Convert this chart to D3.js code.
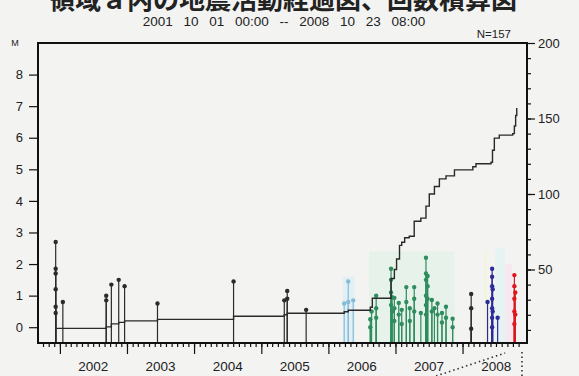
<!DOCTYPE html>
<html>
<head>
<meta charset="utf-8">
<script src="https://cdn.jsdelivr.net/npm/d3@7"></script>
<style>
  html, body { margin: 0; padding: 0; background: #f3f3f2; }
  svg { display: block; }
  text { font-family: "Liberation Sans", Arial, sans-serif; fill: #222; }
</style>
</head>
<body>
<svg id="chart" width="579" height="376"></svg>
<script>
// ─── Data ─────────────────────────────────────────────────────────────────
const titleText = "領域ａ内の地震活動経過図、回数積算図";
const periodText = "2001 10 01 00:00 -- 2008 10 23 08:00";
const countLabel = "N=157";

const mTicks = [0, 1, 2, 3, 4, 5, 6, 7, 8];
const nTicks = [50, 100, 150, 200];
const yearLabels = ["2002", "2003", "2004", "2005", "2006", "2007", "2008"];

// [date, magnitude]
const blackEvents = [
  ["2001-12-09", 2.7], ["2001-12-09", 1.85], ["2001-12-09", 1.7], ["2001-12-09", 1.2],
  ["2001-12-09", 0.65], ["2001-12-09", 0.45],
  ["2002-01-17", 0.8],
  ["2002-09-10", 1.0], ["2002-09-10", 0.85],
  ["2002-10-08", 1.35],
  ["2002-11-17", 1.5],
  ["2002-12-19", 1.3],
  ["2003-06-16", 0.75],
  ["2004-08-03", 1.45],
  ["2005-05-06", 0.85],
  ["2005-05-22", 1.15], ["2005-05-22", 0.9],
  ["2005-09-02", 0.55],
  ["2008-02-17", 1.05], ["2008-02-17", 0.6], ["2008-02-17", -0.05]
];
const paleBlueEvents = [
  ["2006-03-28", 0.75], ["2006-04-19", 1.45], ["2006-04-19", 0.8], ["2006-05-16", 0.85]
];
const greenEvents = [
  ["2006-08-17", 0.25], ["2006-08-17", 0.0],
  ["2006-08-24", 0.5],
  ["2006-09-18", 1.0], ["2006-09-18", 0.6], ["2006-09-18", 0.3],
  ["2006-12-08", 1.85], ["2006-12-08", 1.5], ["2006-12-08", 1.1], ["2006-12-08", 0.7],
  ["2006-12-14", 0.95], ["2006-12-14", 0.5],
  ["2006-12-26", 0.93], ["2006-12-26", 0.6], ["2006-12-26", 0.2],
  ["2007-01-19", 0.77], ["2007-01-19", 0.4],
  ["2007-02-04", 0.55], ["2007-02-04", 0.1],
  ["2007-03-01", 1.27], ["2007-03-01", 0.8],
  ["2007-03-20", 0.6], ["2007-03-20", 0.2],
  ["2007-04-13", 1.27], ["2007-04-13", 0.9], ["2007-04-13", 0.5],
  ["2007-05-19", 0.45],
  ["2007-06-16", 2.2], ["2007-06-16", 1.7], ["2007-06-16", 1.5], ["2007-06-16", 1.0],
  ["2007-06-16", 0.7], ["2007-06-16", 0.4],
  ["2007-06-25", 1.62], ["2007-06-25", 1.3], ["2007-06-25", 0.9],
  ["2007-07-18", 0.86], ["2007-07-18", 0.5],
  ["2007-08-01", 0.6],
  ["2007-08-18", 0.75], ["2007-08-18", 0.4],
  ["2007-09-11", 0.45], ["2007-09-11", 0.15],
  ["2007-10-03", 0.65], ["2007-10-03", 0.3],
  ["2007-11-08", 0.27], ["2007-11-08", 0.0]
];
const blueEvents = [
  ["2008-05-16", 0.8],
  ["2008-06-10", 1.85], ["2008-06-10", 1.6], ["2008-06-10", 1.3], ["2008-06-10", 0.9],
  ["2008-06-10", 0.6], ["2008-06-10", 0.3], ["2008-06-10", 0.0],
  ["2008-06-13", 1.2], ["2008-06-13", 0.5],
  ["2008-07-10", 0.3]
];
const redEvents = [
  ["2008-10-09", 1.65], ["2008-10-09", 1.3], ["2008-10-09", 0.9], ["2008-10-09", 0.5],
  ["2008-10-09", 0.1], ["2008-10-14", 1.1], ["2008-10-14", 0.4]
];

// cumulative number of events [date, count]
const cumulative = [
  ["2001-12-09", 11], ["2002-09-10", 12], ["2002-10-08", 14], ["2002-11-17", 15],
  ["2002-12-19", 16], ["2003-06-16", 17], ["2004-08-03", 19], ["2005-05-06", 20],
  ["2005-05-22", 21], ["2006-03-28", 22], ["2006-04-19", 23], ["2006-08-17", 25],
  ["2006-08-28", 31], ["2006-12-08", 44], ["2006-12-26", 50], ["2007-01-07", 57],
  ["2007-01-23", 66], ["2007-02-04", 68], ["2007-02-20", 71], ["2007-03-17", 72],
  ["2007-04-13", 82], ["2007-05-19", 84], ["2007-06-16", 92], ["2007-07-04", 100],
  ["2007-08-01", 105], ["2007-08-28", 110], ["2007-10-03", 112], ["2007-11-18", 116],
  ["2008-02-26", 118], ["2008-03-14", 120], ["2008-06-04", 121], ["2008-06-12", 129],
  ["2008-06-22", 137], ["2008-07-19", 139], ["2008-09-30", 140], ["2008-10-09", 145],
  ["2008-10-16", 152], ["2008-10-22", 157]
];

// faint colour haze of the scan behind the coloured groups [from, to, top M, colour]
const hazeBands = [
  ["2006-03-20", "2006-05-24", 1.6, "#e2f0f5"],
  ["2006-08-10", "2007-11-20", 2.4, "#e7f3ea"],
  ["2008-04-28", "2008-05-12", 2.4, "#f4f3dc"],
  ["2008-06-28", "2008-08-20", 2.5, "#e5f3f3"],
  ["2008-08-20", "2008-09-25", 2.0, "#f6e8ee"]
];

// ─── Layout ───────────────────────────────────────────────────────────────
const FRAME = { left: 38, right: 527, top: 43, bottom: 343 };
const parse = d3.timeParse("%Y-%m-%d");

const x = d3.scaleTime()
  .domain([new Date(2001, 9, 1), new Date(2008, 9, 23, 8)])
  .range([43, 517]);
const yM = d3.scaleLinear().domain([-0.5, 9]).range([FRAME.bottom, FRAME.top]);
const yN = d3.scaleLinear().domain([0, 200]).range([345, FRAME.top]);

const svg = d3.select("#chart");

// ─── Titles ───────────────────────────────────────────────────────────────
svg.append("text")
  .attr("x", 49).attr("y", 8.5)
  .attr("font-size", "26px").attr("font-weight", "700")
  .style("font-family", "'Noto Sans CJK JP', sans-serif")
  .text(titleText);

svg.append("text")
  .attr("x", 284).attr("y", 26)
  .attr("text-anchor", "middle")
  .attr("font-size", "13.5px")
  .attr("word-spacing", "7px")
  .text(periodText);

svg.append("text")
  .attr("x", 511).attr("y", 38)
  .attr("text-anchor", "end")
  .attr("font-size", "11.5px")
  .text(countLabel);

svg.append("text")
  .attr("x", 15).attr("y", 46)
  .attr("text-anchor", "middle")
  .attr("font-size", "9px")
  .text("M");

// ─── Haze ─────────────────────────────────────────────────────────────────
svg.append("g").selectAll("rect")
  .data(hazeBands).join("rect")
  .attr("x", d => x(parse(d[0])))
  .attr("width", d => x(parse(d[1])) - x(parse(d[0])))
  .attr("y", d => yM(d[2]))
  .attr("height", d => FRAME.bottom - yM(d[2]))
  .attr("fill", d => d[3]);

// ─── Events (stems + dots) ────────────────────────────────────────────────
const groups = [
  { data: blackEvents,    color: "#2b2b2b" },
  { data: paleBlueEvents, color: "#84bcd8" },
  { data: greenEvents,    color: "#2f8c5e" },
  { data: blueEvents,     color: "#2a2c98" },
  { data: redEvents,      color: "#dd1620" }
];

groups.forEach(grp => {
  const g = svg.append("g");
  g.selectAll("line")
    .data(grp.data).join("line")
    .attr("x1", d => x(parse(d[0]))).attr("x2", d => x(parse(d[0])))
    .attr("y1", FRAME.bottom).attr("y2", d => yM(d[1]))
    .attr("stroke", grp.color).attr("stroke-width", 1.2);
  g.selectAll("circle")
    .data(grp.data).join("circle")
    .attr("cx", d => x(parse(d[0])))
    .attr("cy", d => yM(d[1]))
    .attr("r", 2.2)
    .attr("fill", grp.color);
});

// ─── Cumulative count ─────────────────────────────────────────────────────
const line = d3.line()
  .x(d => x(parse(d[0])))
  .y(d => yN(d[1]))
  .curve(d3.curveStepAfter);

svg.append("path")
  .datum(cumulative)
  .attr("d", line)
  .attr("fill", "none")
  .attr("stroke", "#2a2a2a")
  .attr("stroke-width", 1.4);

// ─── Frame ────────────────────────────────────────────────────────────────
svg.append("rect")
  .attr("x", FRAME.left).attr("y", FRAME.top)
  .attr("width", FRAME.right - FRAME.left)
  .attr("height", FRAME.bottom - FRAME.top)
  .attr("fill", "none").attr("stroke", "#111").attr("stroke-width", 2);

// ─── Axes ─────────────────────────────────────────────────────────────────
function styleAxis(g, size) {
  g.select(".domain").remove();
  g.selectAll(".tick line").attr("stroke", "#111").attr("stroke-width", 1.2);
  g.selectAll(".tick text")
    .attr("fill", "#222")
    .style("font-family", "'Liberation Sans', Arial, sans-serif")
    .attr("font-size", size);
}

svg.append("g")
  .attr("transform", `translate(${FRAME.left},0)`)
  .call(d3.axisLeft(yM).tickValues(mTicks).tickSize(9).tickPadding(6).tickFormat(d3.format("d")))
  .call(g => styleAxis(g, "13px"));

svg.append("g")
  .attr("transform", `translate(${FRAME.right},0)`)
  .call(d3.axisRight(yN).tickValues(d3.range(10, 200, 10)).tickSize(4).tickFormat(""))
  .call(g => styleAxis(g, "12px"));

svg.append("g")
  .attr("transform", `translate(${FRAME.right},0)`)
  .call(d3.axisRight(yN).tickValues(nTicks).tickSize(8).tickPadding(3))
  .call(g => styleAxis(g, "13px"));

const months = d3.timeMonth.range(new Date(2001, 8, 1), new Date(2008, 11, 1))
  .filter(d => x(d) >= FRAME.left && x(d) <= FRAME.right);
svg.append("g")
  .attr("transform", `translate(0,${FRAME.bottom})`)
  .call(d3.axisBottom(x).tickValues(months).tickSize(4).tickFormat(""))
  .call(g => styleAxis(g, "12px"));

const years = yearLabels.map(y => new Date(+y, 0, 1));
svg.append("g")
  .attr("transform", `translate(0,${FRAME.bottom})`)
  .call(d3.axisBottom(x).tickValues(years).tickSize(11).tickFormat(""))
  .call(g => styleAxis(g, "12px"));

svg.append("g").selectAll("text")
  .data(yearLabels).join("text")
  .attr("x", d => x(new Date(+d, 6, 2)))
  .attr("y", 371)
  .attr("text-anchor", "middle")
  .attr("font-size", "13.5px")
  .text(d => d);

// ─── Zoom-out pointer lines toward the next panel ─────────────────────────
const endX = x(new Date(2008, 9, 23)) + 5;
svg.append("path")
  .attr("d", `M${x(new Date(2007, 7, 10))},376 L${x(new Date(2008, 7, 20))},353 M${endX},352 L${endX},376`)
  .attr("fill", "none").attr("stroke", "#333")
  .attr("stroke-width", 1.6).attr("stroke-dasharray", "1.5,3");
</script>
</body>
</html>
